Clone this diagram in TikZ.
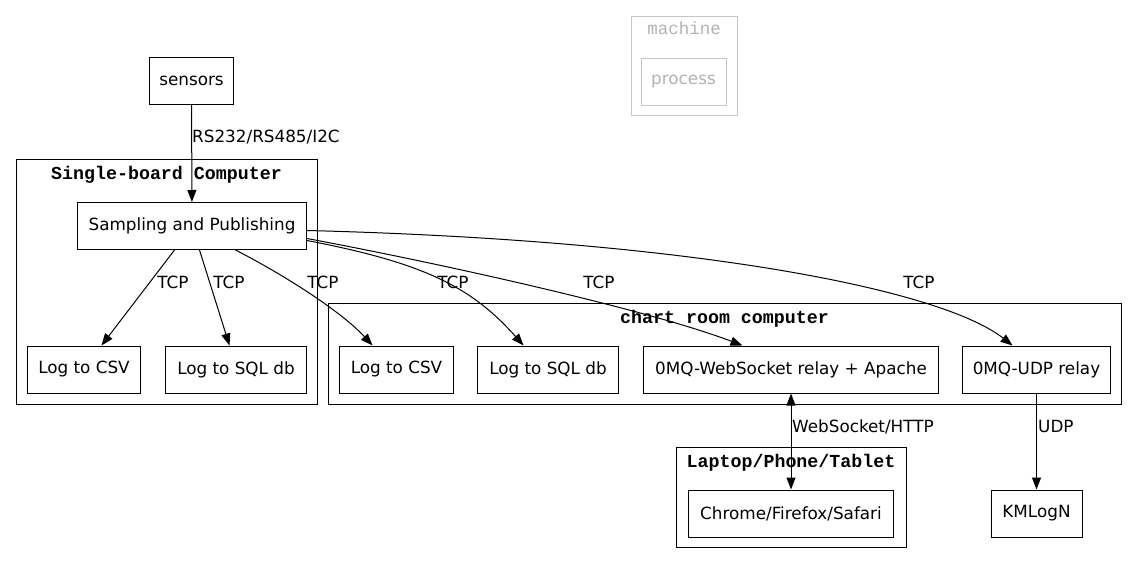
\documentclass[tikz,border=0pt]{standalone}
\usepackage{fontspec}
\setmainfont{DejaVu Sans}
\setmonofont{Liberation Mono}
\usetikzlibrary{arrows.meta}

\tikzset{
  proc/.style={draw, line width=1pt, minimum height=47pt, inner xsep=0pt,
    font=\fontsize{16.8}{20}\selectfont},
  grp/.style={draw, line width=1pt},
  grplabel/.style={anchor=base, inner sep=0pt,
    font=\fontsize{18.3}{20}\selectfont\ttfamily\bfseries},
  lbl/.style={inner sep=0pt, font=\fontsize{16.8}{20}\selectfont},
  link/.style={-{Triangle[length=12pt,width=9pt]}, line width=1pt},
  duplex/.style={{Triangle[length=12pt,width=9pt]}-{Triangle[length=12pt,width=9pt]}, line width=1pt},
}

\begin{document}
\begin{tikzpicture}[x=1pt,y=-1pt]
    \useasboundingbox (0,0) rectangle (1137,564);

    % legend
    \draw[grp, gray!45] (631.5,16.5) rectangle (737.5,115.5);
    \node[grplabel, font=\fontsize{17.5}{20}\selectfont\ttfamily, text=gray!60] (legendlabel) at (684,35) {machine};
    \node[proc, draw=gray!45, text=gray!60, minimum width=85pt] (legendproc) at (683.5,82) {process};

    % clusters
    \draw[grp] (16.5,159.5) rectangle (317.5,404.5);
    \node[grplabel] (sbclabel) at (166.5,179) {Single-board Computer};
    \draw[grp] (328.5,303.5) rectangle (1121.5,404.5);
    \node[grplabel] (crclabel) at (724.5,323) {chart room computer};
    \draw[grp] (676.5,447.5) rectangle (906.5,547.5);
    \node[grplabel] (lptlabel) at (791,467) {Laptop/Phone/Tablet};

    % nodes
    \node[proc, minimum width=84pt] (sensors) at (191.5,81) {sensors};
    \node[proc, minimum width=229pt] (samp) at (192,226) {Sampling and Publishing};
    \node[proc, minimum width=113pt] (csvA) at (84,369.5) {Log to CSV};
    \node[proc, minimum width=141pt] (sqlA) at (236,369.5) {Log to SQL db};
    \node[proc, minimum width=114pt] (csvB) at (396.5,369.5) {Log to CSV};
    \node[proc, minimum width=141pt] (sqlB) at (548,369.5) {Log to SQL db};
    \node[proc, minimum width=295pt] (wsrelay) at (791,369.5) {0MQ-WebSocket relay + Apache};
    \node[proc, minimum width=148pt] (udprelay) at (1036.5,369.5) {0MQ-UDP relay};
    \node[proc, minimum width=205pt] (browser) at (791,513.5) {Chrome/Firefox/Safari};
    \node[proc, minimum width=91pt] (kmlogn) at (1036.5,513.5) {KMLogN};

    % edges
    \draw[link] (sensors) -- (samp);
    \draw[link] ([xshift=-17.5pt]samp.south) -- ([xshift=17.5pt]csvA.north);
    \draw[link] ([xshift=7.5pt]samp.south) -- ([xshift=-6.5pt]sqlA.north);
    \draw[link] ([xshift=43.5pt]samp.south) .. controls +(45,23) and +(-32,-35) .. ([xshift=-24pt]csvB.north);
    \draw[link] ([yshift=-14.5pt]samp.east) .. controls +(114,22) and +(-53,-60) .. ([xshift=-24.5pt]sqlB.north);
    \draw[link] ([yshift=-12.5pt]samp.east) .. controls +(144,27) and +(-92,-35) .. ([xshift=-48.5pt]wsrelay.north);
    \draw[link] ([yshift=-4.5pt]samp.east) .. controls +(394,10) and +(-70,-55) .. ([xshift=-24pt]udprelay.north);
    \draw[duplex] (wsrelay) -- (browser);
    \draw[link] (udprelay) -- (kmlogn);

    % edge labels
    \node[lbl, anchor=base west] (rslabel) at (192,143) {RS232/RS485/I2C};
    \node[lbl, anchor=base] (tcp1) at (173,288) {TCP};
    \node[lbl, anchor=base] (tcp2) at (229,288) {TCP};
    \node[lbl, anchor=base] (tcp3) at (323,288) {TCP};
    \node[lbl, anchor=base] (tcp4) at (453,288) {TCP};
    \node[lbl, anchor=base] (tcp5) at (599,288) {TCP};
    \node[lbl, anchor=base] (tcp6) at (919,288) {TCP};
    \node[lbl, anchor=base west] (wslabel) at (792,432) {WebSocket/HTTP};
    \node[lbl, anchor=base west] (udplabel) at (1038,432) {UDP};
\end{tikzpicture}
\end{document}
